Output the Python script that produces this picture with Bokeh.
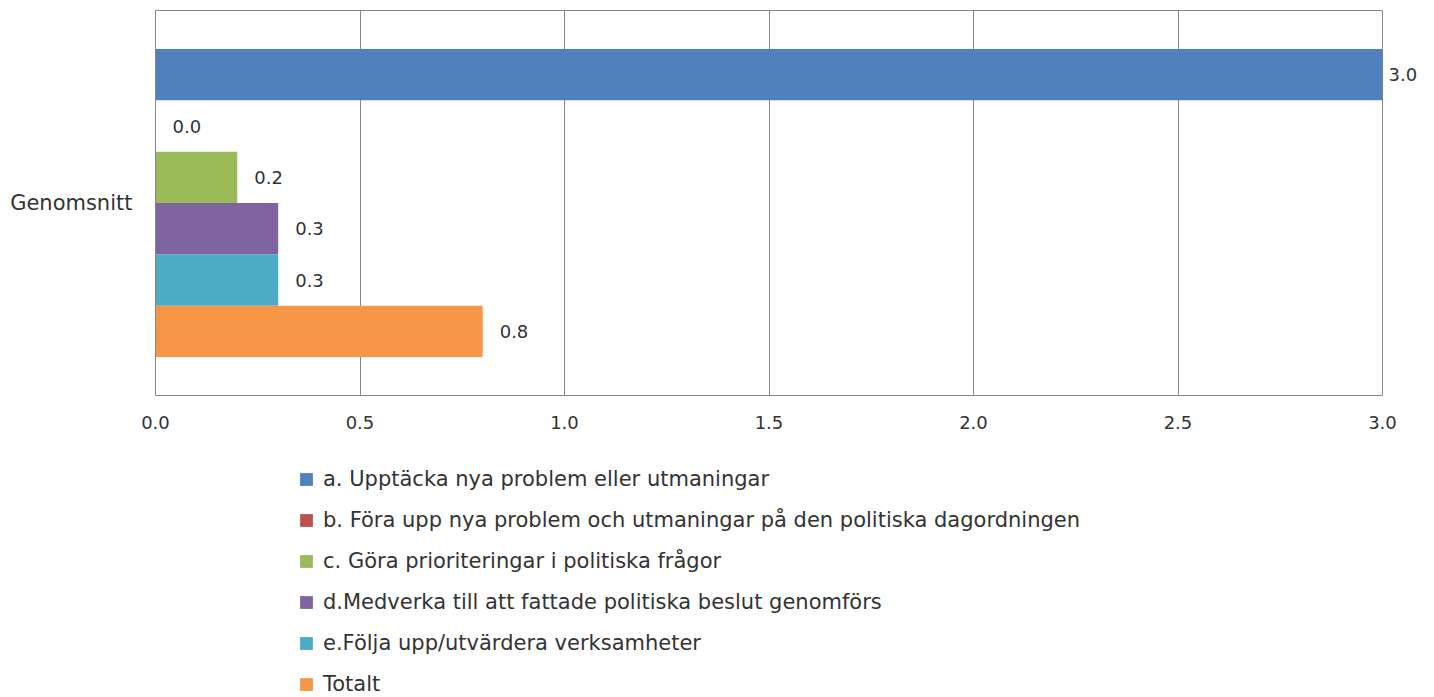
from bokeh.plotting import figure
from bokeh.models import (ColumnDataSource, LabelSet, Legend, LegendItem, FactorRange,
                          FixedTicker, NumeralTickFormatter, LinearAxis)
from bokeh.layouts import column
from bokeh.core.properties import value
from bokeh.transform import dodge
from bokeh.embed import file_html
from bokeh.resources import INLINE

category = ["Genomsnitt"]
series = [
    "a. Upptäcka nya problem eller utmaningar",
    "b. Föra upp nya problem och utmaningar på den politiska dagordningen",
    "c. Göra prioriteringar i politiska frågor",
    "d.Medverka till att fattade politiska beslut genomförs",
    "e.Följa upp/utvärdera verksamheter",
    "Totalt",
]
values = [3.0, 0.0, 0.2, 0.3, 0.3, 0.8]
colors = ["#4F81BD", "#C0504D", "#9BBB59", "#8064A2", "#4BACC6", "#F79646"]
x_ticks = [0.0, 0.5, 1.0, 1.5, 2.0, 2.5, 3.0]

FONT = "DejaVu Sans"
TXT = "#333333"
GRID = "#868686"
XMAX = 3.0
W = 1426
LEFT, RIGHT_PX = 155, 1382

# extend the range a little so that the value label beyond 3.0 stays visible
x_end = XMAX * (W - LEFT) / (RIGHT_PX - LEFT)

p1 = figure(
    width=W, height=437,
    y_range=FactorRange(*category), x_range=(0, x_end),
    output_backend="svg", toolbar_location=None,
    min_border_left=LEFT, min_border_right=0, min_border_top=10, min_border_bottom=42,
)

n = len(series)
bar_h = 0.8 / n
for i, (name, v, c) in enumerate(zip(series, values, colors)):
    off = (n - 1) / 2 * bar_h - i * bar_h
    src = ColumnDataSource(dict(cat=category, val=[v], lbl=[f"{v:.1f}"]))
    p1.hbar(y=dodge("cat", off, range=p1.y_range), right="val", left=0,
            height=bar_h, source=src, fill_color=c, line_color=None)
    lab = LabelSet(x="val", y=dodge("cat", off, range=p1.y_range), text="lbl",
                   source=src, x_offset=6 if v >= XMAX else 17,
                   text_baseline="middle", text_font=value(FONT),
                   text_font_size="18px", text_color=TXT)
    p1.add_layout(lab)

p1.xaxis.ticker = FixedTicker(ticks=x_ticks)
p1.xaxis.formatter = NumeralTickFormatter(format="0.0")
p1.xaxis.bounds = (0, XMAX)
p1.xaxis.major_tick_in = 0
p1.xaxis.major_tick_out = 0
p1.xaxis.minor_tick_line_color = None
p1.xaxis.major_label_standoff = 20
p1.xaxis.axis_line_color = GRID

top_axis = LinearAxis(bounds=(0, XMAX), ticker=FixedTicker(ticks=[]),
                      axis_line_color=GRID, major_tick_in=0, major_tick_out=0,
                      minor_tick_line_color=None, major_label_text_font_size="0px",
                      major_label_standoff=0)
p1.add_layout(top_axis, "above")

p1.yaxis.major_tick_in = 0
p1.yaxis.major_tick_out = 0
p1.yaxis.major_label_standoff = 23
p1.yaxis.axis_line_color = GRID

for ax in (p1.xaxis, p1.yaxis):
    ax.major_label_text_font = FONT
    ax.major_label_text_color = TXT
p1.xaxis.major_label_text_font_size = "18px"
p1.yaxis.major_label_text_font_size = "21px"

p1.xgrid.ticker = FixedTicker(ticks=x_ticks)
p1.xgrid.grid_line_color = GRID
p1.ygrid.grid_line_color = None
p1.outline_line_color = None

# legend panel (its frame is aligned with the chart frame by the column layout)
p2 = figure(width=W, height=260, x_range=(0, 1), y_range=(0, 1),
            output_backend="svg", toolbar_location=None,
            x_axis_location=None, y_axis_location=None,
            min_border=0)
p2.grid.grid_line_color = None
p2.outline_line_color = None
items = []
for name, c in zip(series, colors):
    # zero-size swatch carrier: only its legend glyph is visible
    r = p2.hbar(y=[0], right=[0], left=0, height=0, fill_color=c, line_color=None)
    items.append(LegendItem(label=name, renderers=[r]))

legend = Legend(items=items, location=(298 - LEFT, 1), orientation="vertical",
                glyph_width=16, glyph_height=16, label_height=25, spacing=16,
                label_standoff=9, padding=0, margin=0,
                label_text_font=FONT, label_text_font_size="21px",
                label_text_color=TXT, border_line_color=None,
                background_fill_alpha=0)
p2.add_layout(legend, "center")

p = column(p1, p2, spacing=0)
open("out.html", "w").write(file_html(p, INLINE))
